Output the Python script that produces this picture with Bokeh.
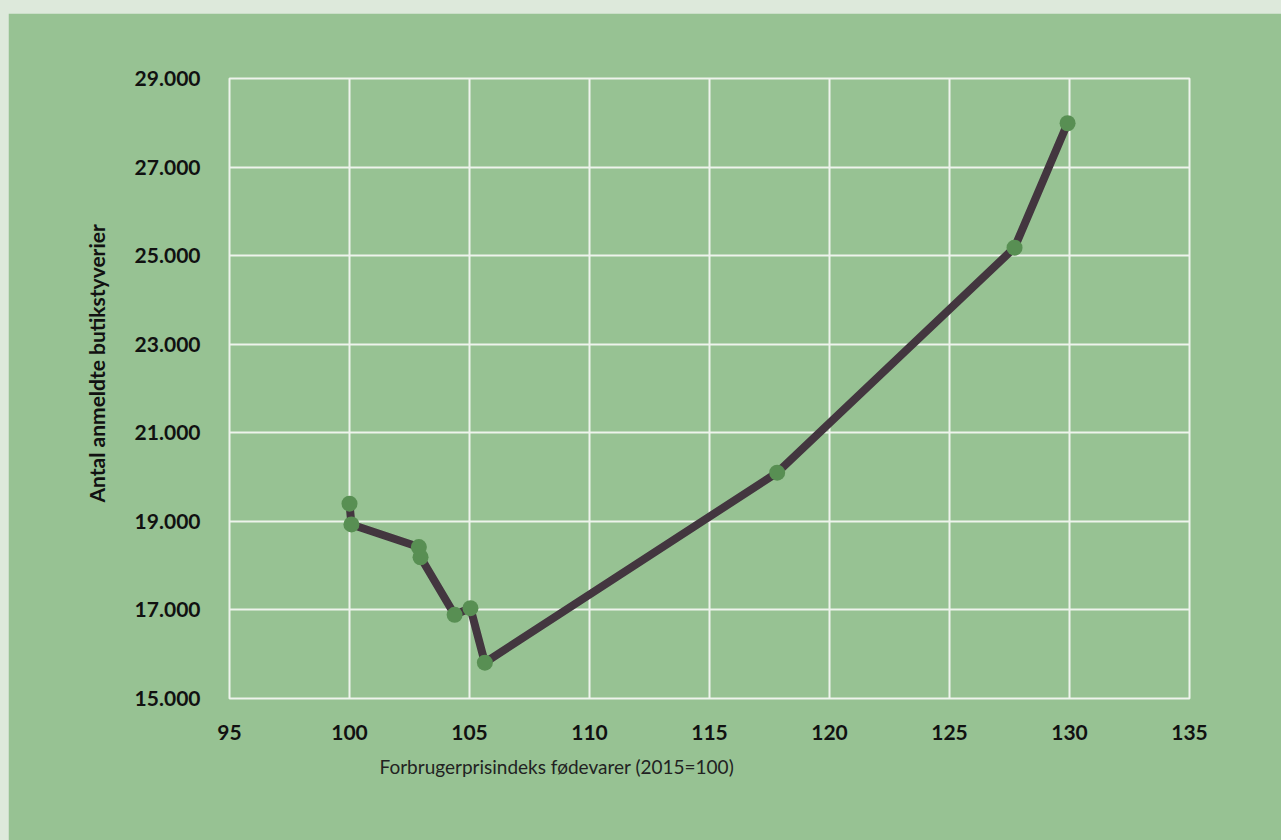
from bokeh.plotting import figure
from bokeh.models import Title, FixedTicker, ColumnDataSource
from bokeh.embed import file_html
from bokeh.resources import INLINE

# ---- data ----
food_price_index = [100.0, 100.08, 102.89, 102.96, 104.38, 105.04, 105.64, 117.82, 127.71, 129.92]
shoplifting = [19400, 18930, 18420, 18190, 16890, 17040, 15810, 20100, 25180, 27990]

x_ticks = [95, 100, 105, 110, 115, 120, 125, 130, 135]
y_ticks = [15000, 17000, 19000, 21000, 23000, 25000, 27000, 29000]
y_tick_labels = ["15.000", "17.000", "19.000", "21.000", "23.000", "25.000", "27.000", "29.000"]

x_title = "Forbrugerprisindeks fødevarer (2015=100)"
y_title = "Antal anmeldte butikstyverier"

GREEN_BG = "#97c293"
LINE_COL = "#43363f"
DOT_COL = "#588f53"
GRID_COL = "#eef3ec"
FONT = "Lato"

src = ColumnDataSource(dict(x=food_price_index, y=shoplifting))

p = figure(width=1273, height=827, x_range=(95, 135), y_range=(15000, 29000),
           output_backend="svg", toolbar_location=None,
           min_border_left=221, min_border_right=92, min_border_top=65, min_border_bottom=142)
p.background_fill_color = GREEN_BG
p.border_fill_color = GREEN_BG
p.outline_line_color = GRID_COL
p.outline_line_width = 2

p.xaxis.ticker = FixedTicker(ticks=x_ticks)
p.yaxis.ticker = FixedTicker(ticks=y_ticks)
p.yaxis.major_label_overrides = {t: l for t, l in zip(y_ticks, y_tick_labels)}
p.xaxis.major_label_overrides = {t: str(t) for t in x_ticks}

for ax in (p.xaxis, p.yaxis):
    ax.axis_line_color = None
    ax.major_tick_line_color = None
    ax.minor_tick_line_color = None
    ax.major_label_text_font = FONT
    ax.major_label_text_font_style = "bold"
    ax.major_label_text_font_size = "21px"
    ax.major_label_text_color = "#111111"
p.xaxis.major_label_standoff = 20
p.yaxis.major_label_standoff = 23

p.xgrid.ticker = FixedTicker(ticks=x_ticks)
p.ygrid.ticker = FixedTicker(ticks=y_ticks)
p.grid.grid_line_color = GRID_COL
p.grid.grid_line_width = 2

p.line("x", "y", source=src, line_color=LINE_COL, line_width=8, line_join="round")
p.scatter("x", "y", source=src, size=16, fill_color=DOT_COL, line_color=None)

p.add_layout(Title(text=x_title, align="left", offset=150, standoff=20,
                   text_font=FONT, text_font_size="19px", text_font_style="normal",
                   text_color="#222222"), "below")
p.add_layout(Title(text=y_title, align="left", offset=196, standoff=46,
                   text_font=FONT, text_font_size="21px", text_font_style="bold",
                   text_color="#111111"), "left")

html = file_html(p, INLINE)
html = html.replace("</head>",
                    "<style>html,body{overflow:hidden;background:#dde9db;}"
                    "body{margin:13px 0 0 8px;}</style></head>", 1)
open("out.html", "w").write(html)
